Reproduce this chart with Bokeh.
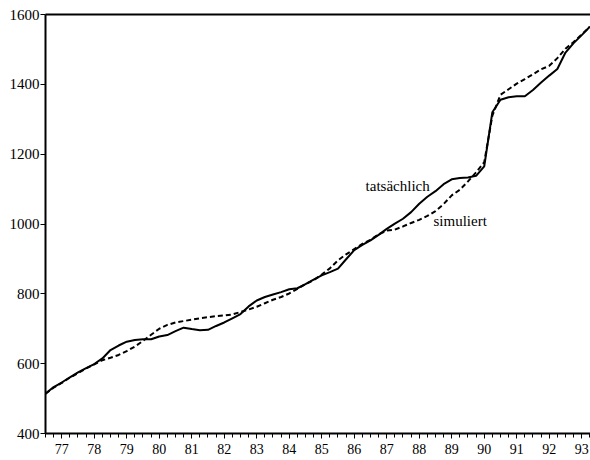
import numpy as np
from bokeh.plotting import figure
from bokeh.models import Range1d, FixedTicker, LinearAxis, Label
from bokeh.embed import file_html
from bokeh.resources import INLINE

# Quarterly observations 1977Q1 .. 1993Q4
start_year = 1977
n_quarters = 68
t = [start_year + i * 0.25 for i in range(n_quarters)]

actual = [514, 533, 546, 561, 575, 587, 599, 615, 639, 652,
          663, 668, 670, 670, 678, 682, 693, 703, 699, 696,
          697, 708, 718, 730, 742, 764, 781, 791, 798, 805,
          813, 816, 828, 841, 853, 862, 872, 899, 925, 940,
          953, 969, 986, 1001, 1015, 1034, 1058, 1078, 1094, 1114,
          1128, 1132, 1133, 1138, 1165, 1320, 1356, 1363, 1366, 1366,
          1384, 1405, 1425, 1444, 1491, 1518, 1541, 1565]

simulated = [514, 531, 545, 560, 573, 586, 598, 610, 617, 625,
             636, 649, 665, 683, 700, 711, 718, 722, 726, 730,
             733, 736, 738, 741, 748, 755, 763, 773, 783, 791,
             801, 814, 828, 839, 855, 873, 896, 913, 928, 943,
             955, 970, 981, 984, 993, 1003, 1012, 1023, 1037, 1057,
             1082, 1098, 1122, 1148, 1177, 1310, 1370, 1386, 1402, 1415,
             1429, 1443, 1453, 1475, 1502, 1521, 1543, 1565]

year_labels = ["77", "78", "79", "80", "81", "82", "83", "84", "85",
               "86", "87", "88", "89", "90", "91", "92", "93"]
y_ticks = [400, 600, 800, 1000, 1200, 1400, 1600]

label_actual = "tatsächlich"
label_sim = "simuliert"

FONT = "Liberation Serif"

p = figure(width=590, height=460, output_backend="svg", toolbar_location=None,
           x_range=Range1d(1977.0, 1993.77), y_range=Range1d(400, 1600),
           min_border_left=45, min_border_right=0, min_border_top=14,
           min_border_bottom=27)
p.outline_line_color = None
p.xgrid.visible = False
p.ygrid.visible = False
p.background_fill_color = "white"
p.border_fill_color = "white"

# x axis: labels centred in each year, quarterly minor ticks
major_x = [start_year + k + 0.5 for k in range(len(year_labels))]
minor_x = [start_year + i * 0.25 for i in range(n_quarters + 1)]
p.xaxis.ticker = FixedTicker(ticks=major_x, minor_ticks=minor_x)
p.xaxis.major_label_overrides = {m: lab for m, lab in zip(major_x, year_labels)}
p.xaxis.major_tick_out = 5
p.xaxis.major_tick_in = 0
p.xaxis.minor_tick_out = 4
p.xaxis.minor_tick_in = 0
p.xaxis.major_label_standoff = 5
p.xaxis.axis_line_width = 2
p.xaxis.major_label_text_font = FONT
p.xaxis.major_label_text_font_size = "14px"
p.xaxis.major_label_text_color = "black"

p.yaxis.ticker = FixedTicker(ticks=y_ticks)
p.yaxis.major_tick_out = 5
p.yaxis.major_tick_in = 0
p.yaxis.minor_tick_out = 0
p.yaxis.minor_tick_in = 0
p.yaxis.major_label_standoff = 1
p.yaxis.axis_line_width = 2
p.yaxis.major_label_text_font = FONT
p.yaxis.major_label_text_font_size = "15px"
p.yaxis.major_label_text_color = "black"

top_axis = LinearAxis(ticker=FixedTicker(ticks=[]), major_tick_out=0, major_tick_in=0,
                      minor_tick_out=0, minor_tick_in=0,
                      major_label_text_font_size="0px", axis_line_width=2)
p.add_layout(top_axis, "above")

p.line(t, actual, line_color="black", line_width=2)
p.line(t, simulated, line_color="black", line_width=2, line_dash="5 3")

p.add_layout(Label(x=1986.85, y=1108, text=label_actual, text_font=FONT,
                   text_font_size="15px", text_color="black",
                   text_baseline="middle", text_align="left"))
p.add_layout(Label(x=1988.94, y=1008, text=label_sim, text_font=FONT,
                   text_font_size="15px", text_color="black",
                   text_baseline="middle", text_align="left"))

open("out.html", "w").write(file_html(p, INLINE))
